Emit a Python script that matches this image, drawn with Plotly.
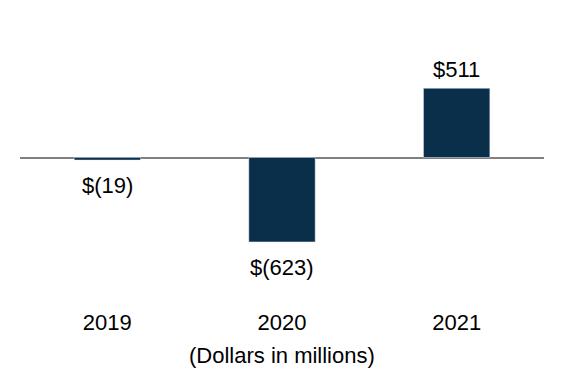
import plotly.graph_objects as go

years = ["2019", "2020", "2021"]
values = [-19, -623, 511]
labels = ["$(19)", "$(623)", "$511"]

BAR = "#0a2f4a"
FONT = "Arial, Liberation Sans, sans-serif"

fig = go.Figure(go.Bar(x=years, y=values, marker_color=BAR, width=0.38,
                       hoverinfo="skip"))

for i, (v, lab) in enumerate(zip(values, labels)):
    fig.add_annotation(x=i, y=v, text=lab, showarrow=False,
                       yanchor="bottom" if v > 0 else "top",
                       yshift=4 if v > 0 else -11,
                       font=dict(family=FONT, size=22, color="#000000"))

fig.add_annotation(x=0.5, y=0, xref="paper", yref="paper", text="(Dollars in millions)",
                   showarrow=False, yanchor="middle", yshift=-45,
                   font=dict(family=FONT, size=22, color="#000000"))

# page body has an 8px margin, so the plot is shifted up/left by 8px to compensate
fig.update_layout(
    width=564, height=386,
    margin=dict(l=12, r=28, t=13, b=84, autoexpand=False),
    paper_bgcolor="white", plot_bgcolor="white",
    showlegend=False,
    font=dict(family=FONT, size=22, color="#000000"),
    xaxis=dict(type="category", range=[-0.5, 2.5], showgrid=False, showline=False,
               ticks="", zeroline=False, automargin=False, ticklabelstandoff=-3,
               tickfont=dict(family=FONT, size=22, color="#000000")),
    yaxis=dict(range=[-1125, 1007], showgrid=False, showticklabels=False,
               automargin=False,
               showline=False, ticks="", zeroline=True, zerolinecolor="#808080",
               zerolinewidth=2),
)

fig.write_html("out.html")
